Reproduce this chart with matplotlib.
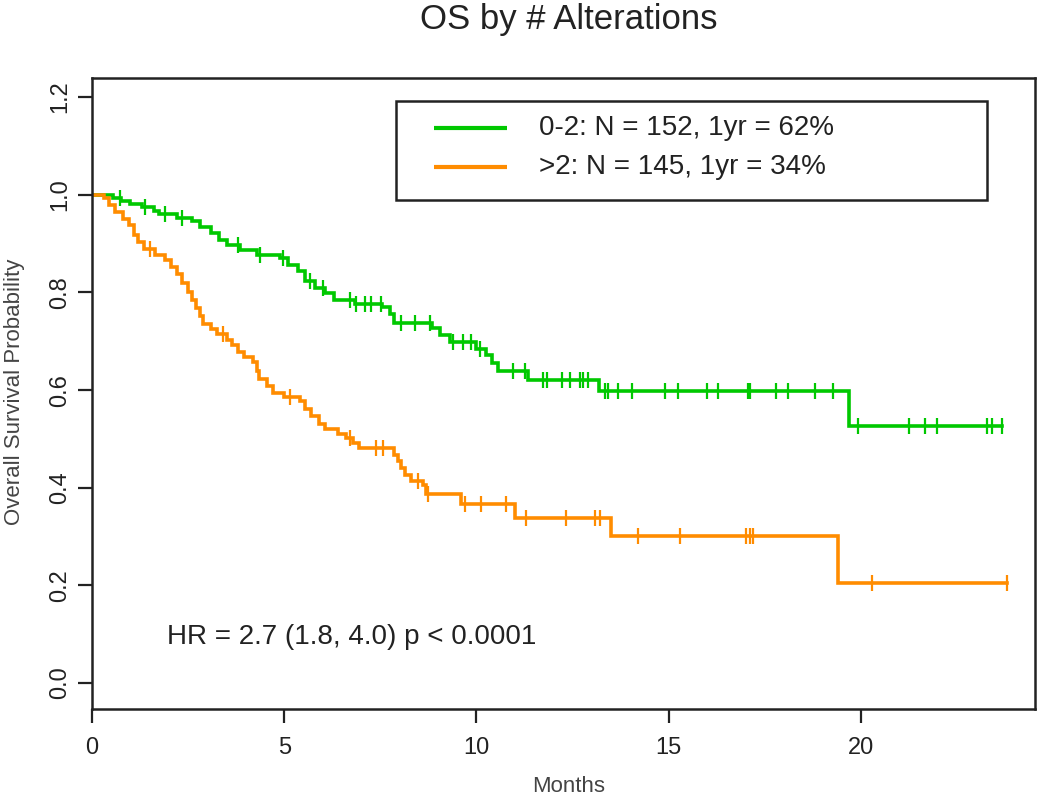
import numpy as np
import matplotlib
matplotlib.use("Agg")
import matplotlib.pyplot as plt
from matplotlib.patches import Rectangle

# ---------------- data ----------------
title = "OS by # Alterations"
xlabel = "Months"
ylabel = "Overall Survival Probability"
hr_text = "HR = 2.7 (1.8, 4.0) p < 0.0001"

group_labels = ["0-2: N = 152, 1yr = 62%", ">2: N = 145, 1yr = 34%"]

# group 0-2 : event times (months) and survival after each event
g1_event_t = [0.55, 0.75, 1.0, 1.3, 1.6, 1.75, 2.2, 2.6, 2.8, 3.1, 3.3, 3.5,
              3.85, 4.3, 4.9, 5.1, 5.35, 5.55, 5.8, 6.05, 6.3, 6.85, 7.55,
              7.75, 7.85, 8.85, 9.05, 9.3, 10.0, 10.25, 10.4, 10.55, 11.35,
              13.2, 19.7]
g1_event_s = [0.993, 0.987, 0.980, 0.974, 0.967, 0.960, 0.953, 0.946, 0.934,
              0.921, 0.908, 0.897, 0.887, 0.877, 0.870, 0.857, 0.843, 0.823,
              0.809, 0.799, 0.785, 0.777, 0.770, 0.755, 0.737, 0.728, 0.712,
              0.699, 0.685, 0.671, 0.655, 0.640, 0.621, 0.598, 0.527]
g1_censor_t = [0.73, 1.38, 1.9, 2.33, 3.8, 4.37, 4.98, 5.67, 6.01, 6.71, 6.88,
               7.1, 7.27, 7.53, 8.05, 8.4, 8.79, 9.4, 9.66, 9.87, 10.09, 10.96,
               11.26, 11.74, 11.83, 12.22, 12.43, 12.69, 12.78, 12.91, 13.34,
               13.43, 13.69, 14.04, 14.9, 15.25, 15.99, 16.29, 17.07, 17.11,
               17.8, 18.1, 18.8, 19.28, 19.93, 21.26, 21.66, 21.97, 23.28,
               23.42, 23.66]

# group >2
g2_event_t = [0.3, 0.45, 0.6, 0.8, 0.95, 1.1, 1.2, 1.35, 1.65, 1.9, 2.05, 2.2,
              2.35, 2.5, 2.6, 2.7, 2.8, 2.9, 3.1, 3.25, 3.5, 3.65, 3.8, 3.95,
              4.2, 4.28, 4.35, 4.55, 4.7, 5.0, 5.4, 5.55, 5.7, 5.9, 6.05, 6.4,
              6.6, 6.8, 6.95, 7.85, 7.95, 8.05, 8.15, 8.3, 8.6, 8.7, 9.6, 11.0,
              13.5, 19.4]
g2_event_s = [0.993, 0.979, 0.965, 0.951, 0.937, 0.917, 0.903, 0.889, 0.877,
              0.866, 0.852, 0.838, 0.819, 0.800, 0.785, 0.768, 0.752, 0.736,
              0.725, 0.714, 0.703, 0.692, 0.678, 0.667, 0.658, 0.640, 0.622,
              0.608, 0.594, 0.586, 0.578, 0.562, 0.546, 0.531, 0.521, 0.511,
              0.502, 0.491, 0.481, 0.468, 0.454, 0.440, 0.426, 0.413, 0.405,
              0.388, 0.367, 0.339, 0.302, 0.204]
g2_censor_t = [1.5, 3.41, 5.15, 6.7, 7.4, 7.56, 8.48, 8.75, 9.7, 10.13, 10.78,
               11.3, 12.34, 13.08, 13.21, 14.2, 15.3, 17.02, 17.11, 17.2,
               20.28, 23.79]

xticks = [0, 5, 10, 15, 20]
yticks = [0.0, 0.2, 0.4, 0.6, 0.8, 1.0, 1.2]

green = "#00C800"
orange = "#FF8C00"

# ---------------- plotting ----------------
plt.rcParams["font.family"] = ["Liberation Sans", "DejaVu Sans"]

fig = plt.figure(figsize=(10.5, 8), dpi=100)
ax = fig.add_axes([92 / 1050, 1 - 709 / 800, (1035 - 92) / 1050, (709 - 78) / 800])


def km_curve(ev_t, ev_s, cens_t, color):
    end_t = max(max(cens_t), ev_t[-1])
    t = np.concatenate([[0.0], ev_t, [end_t]])
    s = np.concatenate([[1.0], ev_s, [ev_s[-1]]])
    ax.step(t, s, where="post", color=color, lw=2.6, solid_joinstyle="miter")
    idx = np.searchsorted(np.asarray(ev_t), np.asarray(cens_t), side="right")
    levels = np.concatenate([[1.0], ev_s])[idx]
    ax.plot(cens_t, levels, linestyle="none", marker="|", markersize=11,
            markeredgewidth=1.6, color=color)


km_curve(g1_event_t, g1_event_s, g1_censor_t, green)
km_curve(g2_event_t, g2_event_s, g2_censor_t, orange)

ax.set_xlim(0, 24.53)
ax.set_ylim(-0.053, 1.239)
ax.set_xticks(xticks)
ax.set_xticklabels([str(v) for v in xticks], fontsize=17, color="#222222")
ax.set_yticks(yticks)
ax.set_yticklabels([f"{v:.1f}" for v in yticks], fontsize=17, rotation=90,
                   va="center", color="#222222")
ax.tick_params(axis="both", direction="out", length=10, width=1.6, color="#222222")
ax.tick_params(axis="x", pad=10)
ax.tick_params(axis="y", pad=5)
for sp in ax.spines.values():
    sp.set_linewidth(1.8)
    sp.set_color("#222222")

# legend (drawn as a box with sample lines)
lx0, lx1 = (396 - 92) / 943, (987 - 92) / 943
ly0, ly1 = (709 - 200) / 631, (709 - 101) / 631
ax.add_patch(Rectangle((lx0, ly0), lx1 - lx0, ly1 - ly0, transform=ax.transAxes,
                       fill=True, facecolor="white", edgecolor="#222222", lw=1.8,
                       zorder=5))
hx0, hx1 = (434 - 92) / 943, (507 - 92) / 943
tx = (539 - 92) / 943
rows_y = [(709 - 128) / 631, (709 - 167) / 631]
for lab, col, yy in zip(group_labels, [green, orange], rows_y):
    ax.plot([hx0, hx1], [yy, yy], transform=ax.transAxes, color=col, lw=3,
            solid_capstyle="butt", zorder=6)
    ax.text(tx, yy, lab, transform=ax.transAxes, fontsize=20, va="center",
            ha="left", color="#222222", zorder=6)

ax.text((167 - 92) / 943, (709 - 637) / 631, hr_text, transform=ax.transAxes,
        fontsize=20, va="center", ha="left", color="#222222")

fig.text(569 / 1050, 1 - 20 / 800, title, fontsize=25, ha="center", va="center",
         color="#222222")
fig.text(569 / 1050, 1 - 787 / 800, xlabel, fontsize=16, ha="center",
         va="center", color="#444444")
fig.text(15 / 1050, 1 - 392 / 800, ylabel, fontsize=16, ha="center",
         va="center", rotation=90, color="#444444")

fig.savefig("out.png", dpi=100)
